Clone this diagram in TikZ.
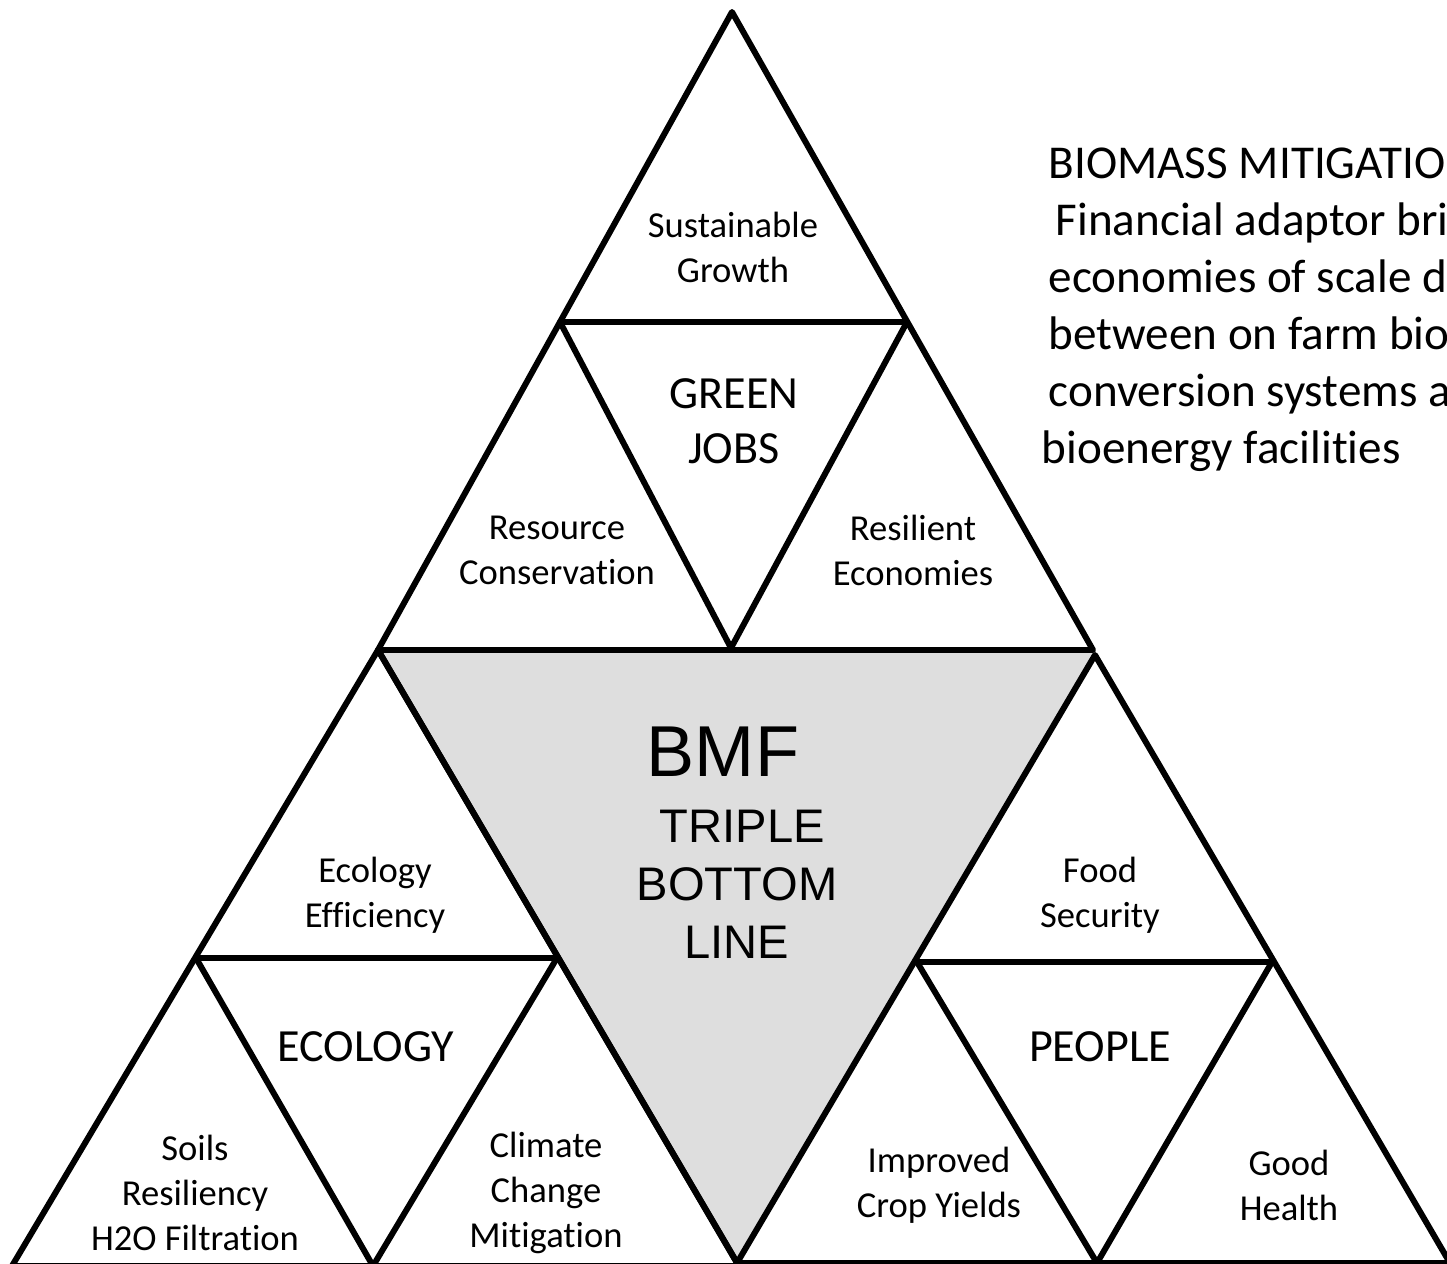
\documentclass[tikz,border=0pt]{standalone}
\usepackage{fontspec}
\setmainfont{Carlito}[Ligatures=NoCommon]
\newfontfamily\arialfont{Liberation Sans}
\usepackage{tikz}
\newcommand{\centercolor}{black!13}

\begin{document}
\begin{tikzpicture}[
      % GLOBAL CFG
      x=0.01cm, y=-0.01cm,
      % Styles
      tri/.style={% For the triangle outlines
        draw,
        line width=1.7pt,
        line join=round
      },
      item/.style={% For the small labels
        align=center,
        inner sep=0pt,
        font=\fontsize{10.4}{12.8}\selectfont
      },
      pillar/.style={% For the three pillar names
        align=center,
        inner sep=0pt,
        font=\fontsize{13.1}{15.6}\selectfont
      },
      core/.style={% For the centre text
        align=center,
        inner sep=0pt,
        font=\arialfont\fontsize{13.4}{16.5}\selectfont
      },
      note/.style={% For the side text
        align=left,
        inner sep=0pt,
        font=\fontsize{13.4}{16.2}\selectfont
      }
      ]

      \useasboundingbox (0,0) rectangle (1447,1264);
      \clip (0,0) rectangle (1447,1264);

      % Corners of the triangles
      \coordinate (topA) at (732,12);
      \coordinate (topL) at (378,650);
      \coordinate (topR) at (1093,650);
      \coordinate (topInL) at (560,322);
      \coordinate (topInR) at (907,322);
      \coordinate (topInB) at (731,648);

      \coordinate (midB) at (737,1263);

      \coordinate (ecoL) at (12,1266);
      \coordinate (ecoR) at (739,1266);
      \coordinate (ecoInL) at (196,958);
      \coordinate (ecoInR) at (557,958);
      \coordinate (ecoInB) at (373,1266);

      \coordinate (pplA) at (1095,655);
      \coordinate (pplR) at (1450,1263);
      \coordinate (pplInL) at (917,962);
      \coordinate (pplInR) at (1272,962);
      \coordinate (pplInB) at (1097,1263);

      % Draw the triangles:
      \fill [\centercolor] (topL) -- (topR) -- (pplA) -- (midB) -- cycle;
      \draw [tri] (midB) -- (topL) -- (topR);

      \draw [tri] (topA) -- (topL) -- (topR) -- cycle;
      \draw [tri] (topInL) -- (topInR) -- (topInB) -- cycle;

      \draw [tri] (topL) -- (ecoL) -- (ecoR) -- cycle;
      \draw [tri] (ecoInL) -- (ecoInR) -- (ecoInB) -- cycle;

      \draw [tri] (pplA) -- (midB) -- (pplR) -- cycle;
      \draw [tri] (pplInL) -- (pplInR) -- (pplInB) -- cycle;

      % Labels
      \node [item] (growth) at (733,247) {Sustainable\\Growth};
      \node [pillar] (jobs) at (734,421) {GREEN\\JOBS};
      \node [item] (resource) at (557,550) {Resource\\Conservation};
      \node [item] (resilient) at (913,550) {Resilient\\Economies};

      \node [core, anchor=base, font=\arialfont\fontsize{20.5}{24}\selectfont] (bmf) at (723,777) {BMF};
      \node [core] (tbl) at (737,884) {\hspace{3pt}TRIPLE\\BOTTOM\\LINE\hspace{3pt}};

      \node [item] (ecoeff) at (375,895) {Ecology\\Efficiency};
      \node [pillar] (ecology) at (366,1047) {ECOLOGY};
      \node [item] (soils) at (195,1193) {Soils\\Resiliency\\H2O Filtration};
      \node [item] (climate) at (546,1193) {Climate\\Change\\Mitigation};

      \node [item] (food) at (1100,895) {Food\\Security};
      \node [pillar] (people) at (1100,1047) {PEOPLE};
      \node [item] (crops) at (939,1185) {Improved\\Crop Yields};
      \node [item] (health) at (1289,1185) {Good\\Health};

      \node [note, anchor=north west] (fund) at (1048,147) {BIOMASS MITIGATIO\\
        \hspace{2pt}Financial adaptor bri\\
        economies of scale d\\
        between on farm bio\\
        conversion systems a\\
        \hspace{-2pt}bioenergy facilities};
    \end{tikzpicture}
\end{document}
